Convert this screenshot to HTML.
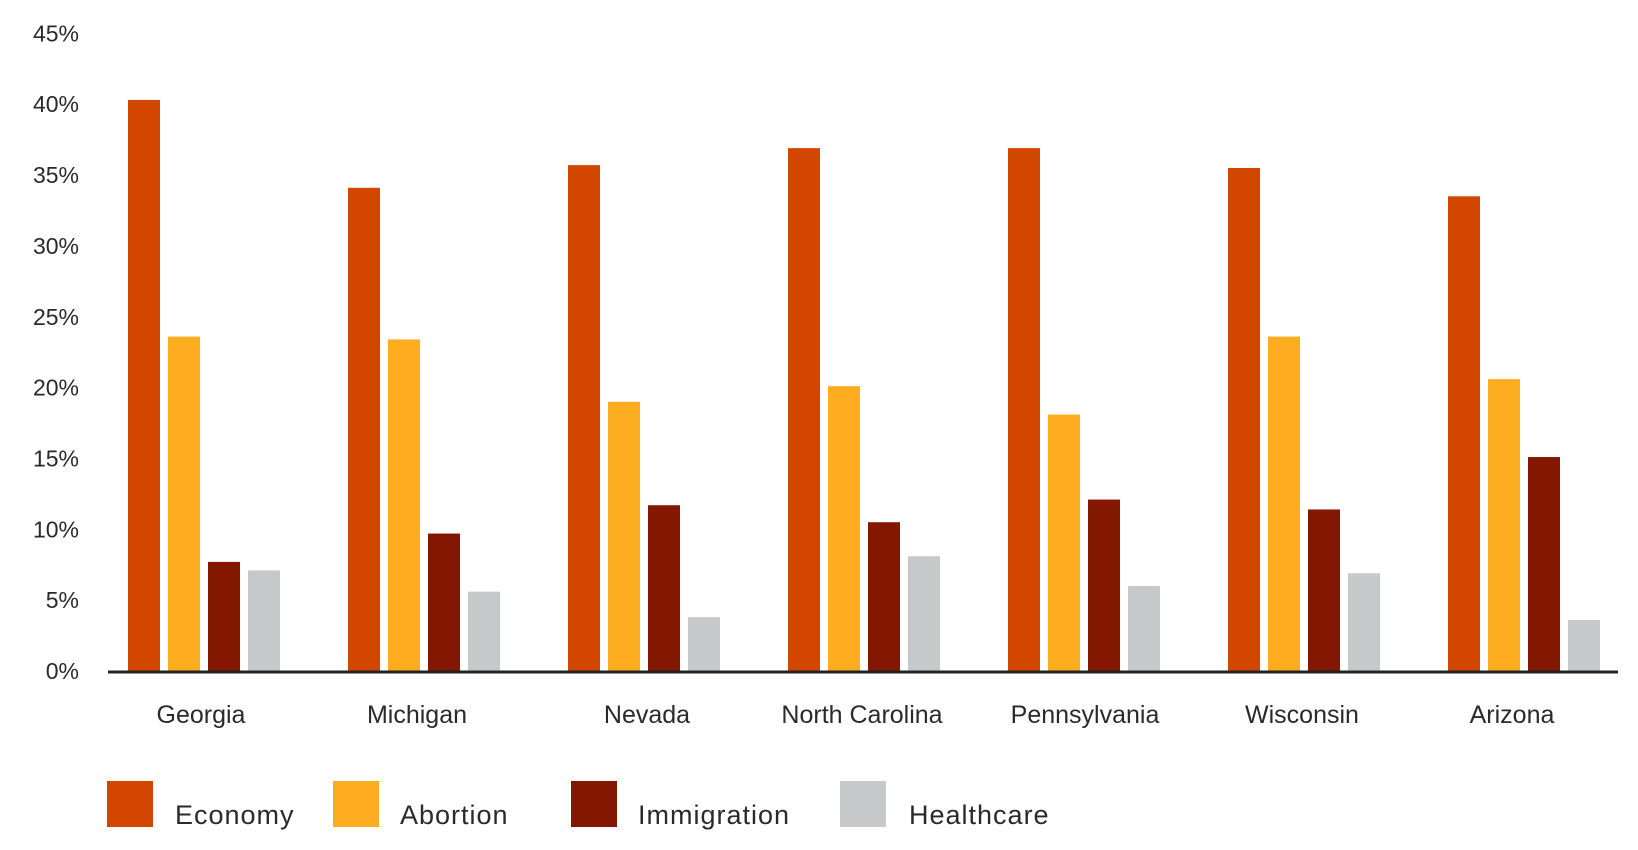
<!DOCTYPE html>
<html><head><meta charset="utf-8"><style>
html,body{margin:0;padding:0;background:#fff;}
svg text{font-family:"Liberation Sans","DejaVu Sans",sans-serif;fill:#2a2a2a;}
</style></head><body>
<svg id="chart" width="1638" height="845" viewBox="0 0 1638 845" xmlns="http://www.w3.org/2000/svg"></svg>
<script>
const categories = ["Georgia","Michigan","Nevada","North Carolina","Pennsylvania","Wisconsin","Arizona"];
const seriesNames = ["Economy","Abortion","Immigration","Healthcare"];
const economy = [40.3,34.1,35.7,36.9,36.9,35.5,33.5];
const abortion = [23.6,23.4,19.0,20.1,18.1,23.6,20.6];
const immigration = [7.7,9.7,11.7,10.5,12.1,11.4,15.1];
const healthcare = [7.1,5.6,3.8,8.1,6.0,6.9,3.6];
const yTicks = [0,5,10,15,20,25,30,35,40,45];
const seriesColors = ["#d34600","#fdac20","#841700","#c6c8ca"];

const NS="http://www.w3.org/2000/svg";
const svg=document.getElementById('chart');
const y0=671, pxPer=14.17;
function yScale(v){return y0 - v*pxPer;}
const groupStart=128, groupStep=220, barStep=40, barW=32;
const labelShift=[-3,-7,3,-2,1,-2,-12];
function xScale(ci,si){return groupStart + ci*groupStep + si*barStep;}
function mk(tag,attrs){const e=document.createElementNS(NS,tag);for(const k in attrs)e.setAttribute(k,attrs[k]);svg.appendChild(e);return e;}

yTicks.forEach(t=>{
  const e=mk('text',{x:79,y:yScale(t)+8,'text-anchor':'end','font-size':23});
  e.textContent=t+'%';
  
  
});

const all=[economy,abortion,immigration,healthcare];
all.forEach((vals,si)=>{
  vals.forEach((v,ci)=>{
    const r=mk('rect',{x:xScale(ci,si),y:yScale(v),width:barW,height:y0-yScale(v),fill:seriesColors[si]});
    
    
  });
});

const ax=mk('line',{x1:108,x2:1618,y1:y0+1,y2:y0+1,stroke:'#222','stroke-width':3});



categories.forEach((c,ci)=>{
  const cx=xScale(ci,0)+(3*barStep+barW)/2+labelShift[ci];
  const e=mk('text',{x:cx,y:723,'text-anchor':'middle','font-size':25});
  e.textContent=c;
  
  
});

const legSw=[107,333,571,840], legTx=[175,400,638,909];
seriesNames.forEach((n,si)=>{
  const r=mk('rect',{x:legSw[si],y:781,width:46,height:46,fill:seriesColors[si]});
  
  
  const t=mk('text',{x:legTx[si],y:824,'font-size':27,'letter-spacing':1});
  t.textContent=n;
  
  
});
</script>
</body></html>
